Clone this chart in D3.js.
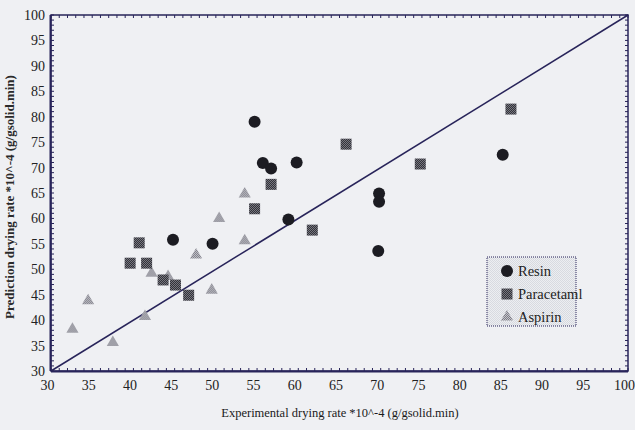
<!DOCTYPE html>
<html>
<head>
<meta charset="utf-8">
<script src="https://cdn.jsdelivr.net/npm/d3@7"></script>
<style>
  html, body { margin: 0; padding: 0; background: #eff0f3; }
  svg { display: block; }
</style>
</head>
<body>
<svg id="chart" width="635" height="430"></svg>
<script>
// Drying rate: experimental vs. predicted (x10^-4 g/gsolid.min)
const resinX = [54.7, 55.7, 56.7, 59.8, 58.8, 44.8, 49.6, 69.8, 69.8, 69.7, 84.8];
const resinY = [79.0, 70.9, 69.8, 71.0, 59.8, 55.8, 55.0, 64.9, 63.3, 53.6, 72.5];

const paraX = [85.8, 65.8, 74.8, 56.7, 54.7, 61.7, 40.7, 39.6, 41.6, 43.6, 45.1, 46.7];
const paraY = [81.5, 74.6, 70.7, 66.7, 61.9, 57.7, 55.2, 51.2, 51.2, 47.9, 46.9, 44.9];

const aspX = [53.5, 50.4, 53.5, 47.6, 49.5, 34.5, 32.6, 41.4, 37.5, 42.2, 44.2];
const aspY = [64.8, 60.0, 55.6, 52.8, 45.9, 43.8, 38.2, 40.7, 35.6, 49.2, 48.6];

const tickValues = [30, 35, 40, 45, 50, 55, 60, 65, 70, 75, 80, 85, 90, 95, 100];
const legendLabels = ["Resin", "Paracetaml", "Aspirin"];

const xTitle = "Experimental drying rate *10^-4 (g/gsolid.min)";
const yTitle = "Prediction drying rate *10^-4 (g/gsolid.min)";

const W = 635, H = 430;
const svg = d3.select("#chart");

const x = d3.scaleLinear().domain([30, 100]).range([51, 628]);
const y = d3.scaleLinear().domain([30, 100]).range([371, 15]);

const ink = "#28245a";
const serif = "Liberation Serif, Times New Roman, serif";

// stippled fills for the markers and legend box
const defs = svg.append("defs");
function stipple(id, a, b) {
  const p = defs.append("pattern").attr("id", id)
    .attr("width", 2).attr("height", 2).attr("patternUnits", "userSpaceOnUse");
  p.append("rect").attr("width", 2).attr("height", 2).attr("fill", a);
  p.append("rect").attr("width", 1).attr("height", 1).attr("fill", b);
  p.append("rect").attr("x", 1).attr("y", 1).attr("width", 1).attr("height", 1).attr("fill", b);
}
stipple("sq", "#333338", "#767680");
stipple("tri", "#7c7c84", "#c4c4cc");
stipple("leg", "#eceef1", "#d8dae0");

// background
svg.append("rect").attr("width", W).attr("height", H).attr("fill", "#eff0f3");

// minor ticks every unit, pointing inward on all four sides
const minor = d3.range(30, 101, 1);
const tg = svg.append("g").attr("stroke", ink).attr("stroke-width", 1);
minor.forEach(v => {
  tg.append("line").attr("x1", x(v)).attr("x2", x(v)).attr("y1", y(30)).attr("y2", y(30) - 3);
  tg.append("line").attr("x1", x(v)).attr("x2", x(v)).attr("y1", y(100)).attr("y2", y(100) + 3);
  tg.append("line").attr("x1", x(30)).attr("x2", x(30) + 3).attr("y1", y(v)).attr("y2", y(v));
  tg.append("line").attr("x1", x(100)).attr("x2", x(100) - 3).attr("y1", y(v)).attr("y2", y(v));
});

// frame
svg.append("rect")
  .attr("x", x(30)).attr("y", y(100))
  .attr("width", x(100) - x(30)).attr("height", y(30) - y(100))
  .attr("fill", "none").attr("stroke", ink).attr("stroke-width", 1.5);
svg.append("line").attr("x1", x(30)).attr("x2", x(100)).attr("y1", y(30) + 0.5).attr("y2", y(30) + 0.5)
  .attr("stroke", ink).attr("stroke-width", 2);
svg.append("line").attr("x1", x(30) - 0.5).attr("x2", x(30) - 0.5).attr("y1", y(100)).attr("y2", y(30))
  .attr("stroke", ink).attr("stroke-width", 2);

// tick labels via d3 axes (tick lines hidden, labels only)
const xAxis = d3.axisBottom(x).tickValues(tickValues).tickSize(0).tickPadding(9);
const gx = svg.append("g").attr("transform", `translate(-4,${y(30)})`).call(xAxis);
const yAxis = d3.axisLeft(y).tickValues(tickValues).tickSize(0).tickPadding(6);
const gy = svg.append("g").attr("transform", `translate(${x(30)},0)`).call(yAxis);
[gx, gy].forEach(g => {
  g.select(".domain").remove();
  g.selectAll("text").attr("font-family", serif).attr("font-size", 14).attr("fill", "#222");
});

// axis titles
svg.append("text").attr("x", 340).attr("y", 417).attr("text-anchor", "middle")
  .attr("font-family", serif).attr("font-size", 12.5).attr("fill", "#1a1a1a").text(xTitle);
svg.append("text").attr("transform", "translate(14,197) rotate(-90)").attr("text-anchor", "middle")
  .attr("font-family", serif).attr("font-size", 13).attr("font-weight", "bold")
  .attr("fill", "#2a2a2a").text(yTitle);

// 1:1 reference line
svg.append("line")
  .attr("x1", x(30)).attr("y1", y(30)).attr("x2", x(100)).attr("y2", y(100))
  .attr("stroke", ink).attr("stroke-width", 1.5);

// markers
const tri = d3.symbol().type(d3.symbolTriangle).size(64);
const pts = svg.append("g");
pts.selectAll(".asp").data(d3.zip(aspX, aspY)).join("path")
  .attr("class", "asp")
  .attr("transform", d => `translate(${x(d[0])},${y(d[1])})`)
  .attr("d", tri).attr("fill", "url(#tri)");
pts.selectAll(".para").data(d3.zip(paraX, paraY)).join("rect")
  .attr("class", "para")
  .attr("x", d => x(d[0]) - 5.5).attr("y", d => y(d[1]) - 5.5)
  .attr("width", 11).attr("height", 11).attr("fill", "url(#sq)");
pts.selectAll(".resin").data(d3.zip(resinX, resinY)).join("circle")
  .attr("class", "resin")
  .attr("cx", d => x(d[0])).attr("cy", d => y(d[1])).attr("r", 6)
  .attr("fill", "#1c1c22");

// legend
const lg = svg.append("g").attr("transform", "translate(487,257)");
lg.append("rect").attr("width", 89).attr("height", 69)
  .attr("fill", "url(#leg)").attr("stroke", ink).attr("stroke-width", 1)
  .attr("stroke-dasharray", "1,1");
lg.append("circle").attr("cx", 20).attr("cy", 14).attr("r", 6).attr("fill", "#1c1c22");
lg.append("rect").attr("x", 14.5).attr("y", 31.5).attr("width", 11).attr("height", 11).attr("fill", "url(#sq)");
lg.append("path").attr("transform", "translate(20,60)").attr("d", tri).attr("fill", "url(#tri)");
legendLabels.forEach((t, i) => {
  lg.append("text").attr("x", 31).attr("y", 19 + i * 23)
    .attr("font-family", serif).attr("font-size", 14.5).attr("fill", "#222").text(t);
});
</script>
</body>
</html>
